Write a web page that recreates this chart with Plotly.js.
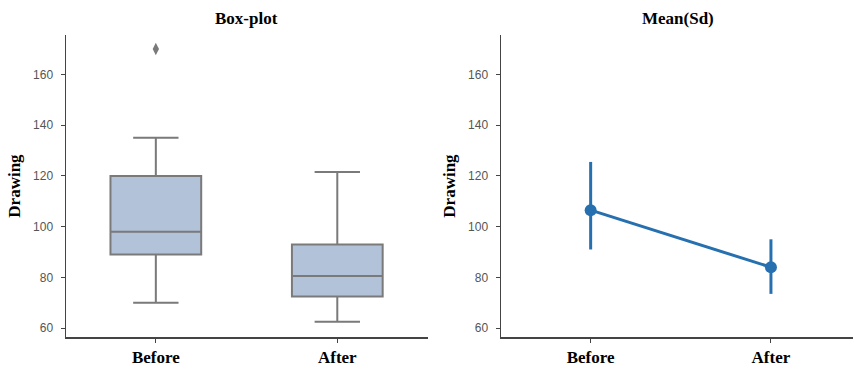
<!DOCTYPE html>
<html>
<head>
<meta charset="utf-8">
<script src="https://cdn.plot.ly/plotly-3.0.1.min.js"></script>
<style>html,body{margin:0;padding:0;background:#fff}#chart{width:854px;height:369px}</style>
</head>
<body>
<div id="chart"></div>
<script>
// Data
const categories = ["Before", "After"];
const boxQ1 = [89, 72.5];
const boxMedian = [98, 80.5];
const boxQ3 = [120, 93];
const boxLowerFence = [70, 62.5];
const boxUpperFence = [135, 121.5];
const outlierCategory = ["Before"];
const outlierValue = [170];
const meanValues = [106.5, 84];
const errUpper = [125.5, 95];
const errLower = [91, 73.5];
const yTicks = [60, 80, 100, 120, 140, 160];

const plusErr = meanValues.map((m, i) => errUpper[i] - m);
const minusErr = meanValues.map((m, i) => m - errLower[i]);

const boxTrace = {
  type: 'box',
  x: categories,
  q1: boxQ1, median: boxMedian, q3: boxQ3,
  lowerfence: boxLowerFence, upperfence: boxUpperFence,
  xaxis: 'x', yaxis: 'y',
  fillcolor: '#b1c2d9',
  line: {color: '#7a7a7a', width: 2},
  width: 0.5,
  whiskerwidth: 0.5,
  boxpoints: false,
  showlegend: false,
  hoverinfo: 'skip'
};
const outlierTrace = {
  type: 'scatter', mode: 'markers',
  x: outlierCategory, y: outlierValue,
  xaxis: 'x', yaxis: 'y',
  marker: {symbol: 'diamond-tall', size: 9, color: '#7a7a7a'},
  showlegend: false, hoverinfo: 'skip'
};
const meanTrace = {
  type: 'scatter', mode: 'lines+markers',
  x: categories, y: meanValues,
  xaxis: 'x2', yaxis: 'y2',
  line: {color: '#2770b0', width: 3},
  marker: {color: '#2770b0', size: 12},
  error_y: {type: 'data', symmetric: false, array: plusErr, arrayminus: minusErr,
            color: '#2770b0', thickness: 3, width: 0},
  showlegend: false, hoverinfo: 'skip'
};

const tickFont = {family: 'Liberation Sans, Arial, sans-serif', size: 12, color: '#555'};
const catFont = {family: 'Liberation Serif, Times New Roman, serif', size: 17, color: '#000', weight: 'bold'};
const titleFont = {family: 'Liberation Serif, Times New Roman, serif', size: 17, color: '#000', weight: 'bold'};

function yaxisDef(anchor) {
  return {
    anchor: anchor, domain: [0.0867, 0.905], range: [56.5, 175.5],
    tickvals: yTicks, ticks: 'outside', ticklen: 4, tickcolor: '#444', tickwidth: 1,
    tickfont: tickFont, ticklabelstandoff: 5,
    showline: true, linecolor: '#444', linewidth: 1.5, showgrid: false, zeroline: false,
    title: {text: 'Drawing', font: {family: 'Liberation Serif, Times New Roman, serif', size: 17, color: '#000', weight: 'bold'}, standoff: 8}
  };
}
function xaxisDef(anchor, domain, range) {
  return {
    anchor: anchor, domain: domain, range: range, type: 'category',
    categoryorder: 'array', categoryarray: categories,
    ticks: 'outside', ticklen: 4, tickcolor: '#444', tickwidth: 1,
    tickfont: catFont, ticklabelstandoff: 0,
    showline: true, linecolor: '#444', linewidth: 1.5, showgrid: false, zeroline: false
  };
}

const layout = {
  width: 854, height: 369,
  margin: {l: 0, r: 0, t: 0, b: 0},
  paper_bgcolor: '#fff', plot_bgcolor: '#fff',
  xaxis: xaxisDef('y', [0.0773, 0.5012], [-0.495, 1.5]),
  yaxis: yaxisDef('x'),
  xaxis2: xaxisDef('y2', [0.5867, 0.9988], [-0.497, 1.455]),
  yaxis2: yaxisDef('x2'),
  annotations: [
    {text: 'Box-plot', xref: 'paper', yref: 'paper', x: 0.2892, y: 1 - 18/369, showarrow: false, font: titleFont, xanchor: 'center', yanchor: 'middle'},
    {text: 'Mean(Sd)', xref: 'paper', yref: 'paper', x: 0.7935, y: 1 - 18/369, showarrow: false, font: titleFont, xanchor: 'center', yanchor: 'middle'}
  ]
};

Plotly.newPlot('chart', [boxTrace, outlierTrace, meanTrace], layout, {displayModeBar: false, staticPlot: true});
</script>
</body>
</html>
